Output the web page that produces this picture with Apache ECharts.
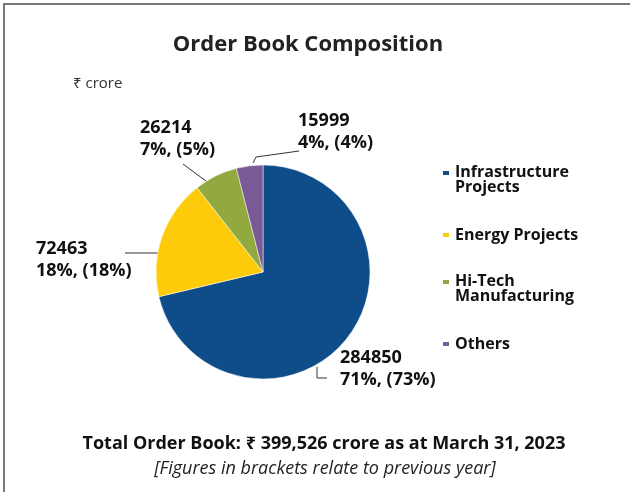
<!DOCTYPE html>
<html>
<head>
<meta charset="utf-8">
<script src="https://cdn.jsdelivr.net/npm/echarts@6/dist/echarts.min.js"></script>
<style>
  html, body { margin: 0; padding: 0; background: #fff; }
  #chart { width: 630px; height: 492px; }
</style>
</head>
<body>
<div id="chart"></div>
<script>
var categories = ['Infrastructure Projects', 'Energy Projects', 'Hi-Tech Manufacturing', 'Others'];
var legendNames = ['Infrastructure\nProjects', 'Energy Projects', 'Hi-Tech\nManufacturing', 'Others'];
var values = [284850, 72463, 26214, 15999];
var prevYearPct = [73, 18, 5, 4];
var colors = ['#0f4c8a', '#fecb0a', '#92a93f', '#7a5a96'];
var legendTops = [164, 227, 273, 336];
// label block (left, top) and its leader line
var labelPos = [[340, 347], [36, 238], [140, 117], [298, 110]];
var leaderLines = [
    [[317, 367], [317, 378], [327, 378]],
    [[158, 253], [140, 253], [125, 253]],
    [[206, 181], [195, 173], [183, 164]],
    [[253, 163], [256, 157], [299, 151]]
];

var font = '"Open Sans", "Noto Sans", sans-serif';

var chart = echarts.init(document.getElementById('chart'));

var pieData = [];
for (var i = 0; i < categories.length; i++) {
    pieData.push({ name: categories[i], value: values[i], itemStyle: { color: colors[i] } });
}

// square near the first text line, box as tall as two lines
var tallIcon = 'path://M0,5H8V11H0Z M0,0H0.01V0.01H0Z M0,30H0.01V30.01H0Z';

var legends = [];
for (var i = 0; i < categories.length; i++) {
    var twoLine = legendNames[i].indexOf('\n') > 0;
    legends.push({
        orient: 'vertical',
        left: 441,
        top: legendTops[i],
        padding: 0,
        icon: twoLine ? tallIcon : 'rect',
        itemWidth: 8,
        itemHeight: twoLine ? 30 : 6,
        itemGap: 0,
        data: [categories[i]],
        formatter: function (name) {
            return legendNames[categories.indexOf(name)];
        },
        textStyle: {
            fontFamily: font,
            fontWeight: 'bold',
            fontSize: 16,
            lineHeight: 15,
            color: '#111'
        }
    });
}

var option = {
    backgroundColor: '#fff',
    animation: false,
    title: [{
        text: 'Order Book Composition',
        left: 303,
        textAlign: 'center',
        top: 29,
        textStyle: { fontFamily: font, fontWeight: 'bold', fontSize: 22, color: '#222' }
    }, {
        text: '₹ crore',
        left: 68,
        top: 71,
        textStyle: { fontFamily: font, fontWeight: 'normal', fontSize: 15, color: '#333' }
    }, {
        text: 'Total Order Book: ₹ 399,526 crore as at March 31, 2023',
        left: 319,
        textAlign: 'center',
        top: 430,
        textStyle: { fontFamily: font, fontWeight: 'bold', fontSize: 18, color: '#111' }
    }, {
        text: '[Figures in brackets relate to previous year]',
        left: 320,
        textAlign: 'center',
        top: 455,
        textStyle: { fontFamily: font, fontStyle: 'italic', fontWeight: 'normal', fontSize: 18, color: '#222' }
    }],
    legend: legends,
    graphic: [{
        type: 'line',
        shape: { x1: 3, y1: 4, x2: 630, y2: 4 },
        style: { stroke: '#777', lineWidth: 2 }
    }, {
        type: 'line',
        shape: { x1: 4, y1: 3, x2: 4, y2: 492 },
        style: { stroke: '#777', lineWidth: 2 }
    }],
    series: [{
        type: 'pie',
        center: [263, 272],
        radius: [0, 107],
        startAngle: 90,
        clockwise: true,
        data: pieData,
        itemStyle: { borderColor: '#fff', borderWidth: 0.5 },
        emphasis: { disabled: true },
        label: {
            show: true,
            position: 'outside',
            formatter: function (p) {
                return p.value + '\n' + Math.round(p.percent) + '%, (' + prevYearPct[p.dataIndex] + '%)';
            },
            fontFamily: font,
            fontWeight: 'bold',
            fontSize: 18,
            lineHeight: 22,
            color: '#111',
            align: 'left'
        },
        labelLine: {
            show: true,
            length: 8,
            length2: 10,
            lineStyle: { color: '#333', width: 1 }
        },
        labelLayout: function (params) {
            var pos = labelPos[params.dataIndex];
            return {
                x: pos[0],
                y: pos[1],
                align: 'left',
                verticalAlign: 'top',
                moveOverlap: false,
                labelLinePoints: leaderLines[params.dataIndex]
            };
        }
    }]
};

chart.setOption(option);
</script>
</body>
</html>
